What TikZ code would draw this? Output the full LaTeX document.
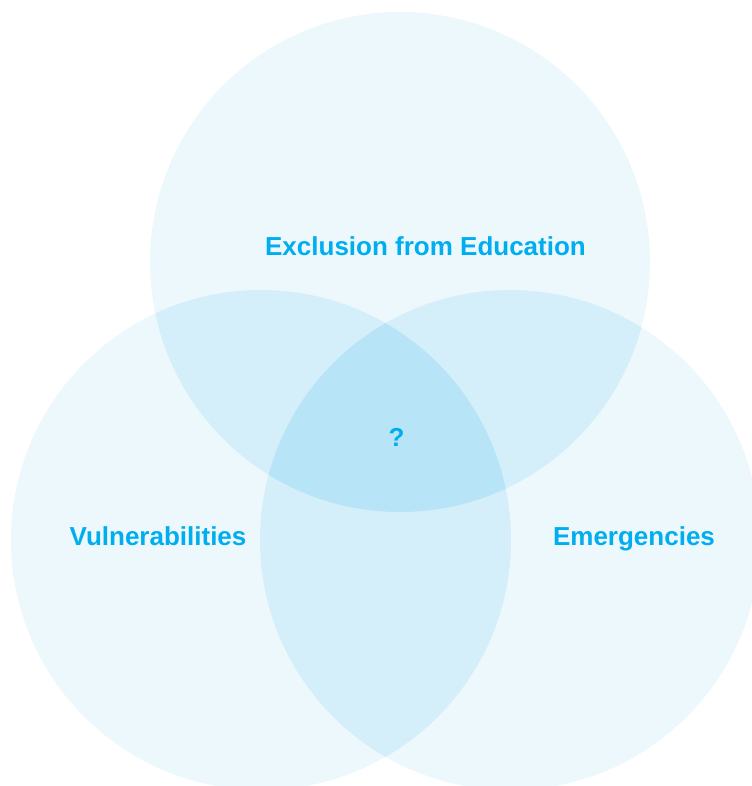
\documentclass[tikz,border=0pt]{standalone}
\usepackage{fontspec}
\setmainfont{Liberation Sans}
\usetikzlibrary{positioning}
\definecolor{labelblue}{HTML}{00AEEF}
\definecolor{oneshade}{HTML}{EDF8FD}
\definecolor{twoshade}{HTML}{D4EEFA}
\definecolor{threeshade}{HTML}{B8E4F8}
\tikzset{
  setlabel/.style={text=labelblue, font=\bfseries\fontsize{19.5}{23}\selectfont, inner sep=0pt, anchor=base}
}

\begin{document}
\begin{tikzpicture}[x=0.75pt, y=-0.75pt]
  \useasboundingbox (0,0) rectangle (752,786);
  \clip (0,0) rectangle (752,786);

  % the three sets
  \coordinate (top) at (400,262);
  \coordinate (left) at (261,540);
  \coordinate (right) at (510,540);
  \def\rad{187.5pt}

  \fill[oneshade] (top) circle (\rad);
  \fill[oneshade] (left) circle (\rad);
  \fill[oneshade] (right) circle (\rad);

  % pairwise overlaps
  \begin{scope}
    \clip (top) circle (\rad);
    \fill[twoshade] (left) circle (\rad);
    \fill[twoshade] (right) circle (\rad);
  \end{scope}
  \begin{scope}
    \clip (left) circle (\rad);
    \fill[twoshade] (right) circle (\rad);
  \end{scope}

  % centre overlap
  \begin{scope}
    \clip (top) circle (\rad);
    \clip (left) circle (\rad);
    \fill[threeshade] (right) circle (\rad);
  \end{scope}

  \node[setlabel] (exclusion) at (425.5,255) {Exclusion from Education};
  \node[setlabel] (vulner) at (158,545) {Vulnerabilities};
  \node[setlabel] (emerg) at (634,545) {Emergencies};
  \node[setlabel] (unknown) at (396.5,446) {?};
\end{tikzpicture}
\end{document}
